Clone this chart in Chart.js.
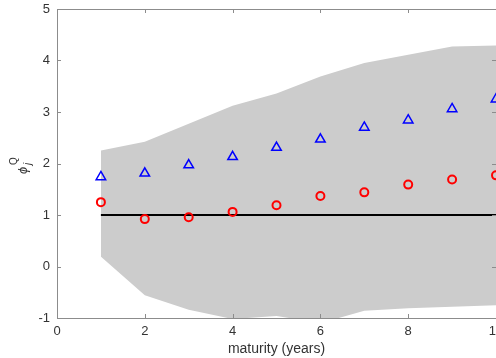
<!DOCTYPE html>
<html>
<head>
<meta charset="utf-8">
<script src="https://cdn.jsdelivr.net/npm/chart.js@4/dist/chart.umd.min.js"></script>
<style>
  html, body { margin: 0; padding: 0; background: #fff; overflow: hidden; }
  canvas { display: block; }
</style>
</head>
<body>
<canvas id="myChart" width="530" height="358"></canvas>
<script>
// maturities in years
const maturity = [1, 2, 3, 4, 5, 6, 7, 8, 9, 10];
// blue triangles and red circles
const triangleVals = [1.74, 1.81, 1.97, 2.13, 2.31, 2.47, 2.70, 2.84, 3.06, 3.25];
const circleVals = [1.25, 0.92, 0.955, 1.06, 1.19, 1.37, 1.44, 1.59, 1.69, 1.77];
// shaded band
const bandUpper = [2.25, 2.42, 2.77, 3.12, 3.36, 3.69, 3.95, 4.11, 4.27, 4.29];
const bandLower = [0.19, -0.56, -0.84, -1.02, -0.96, -1.1, -0.86, -0.81, -0.78, -0.75];
// reference line
const refLevel = 1;

const xTicks = [0, 2, 4, 6, 8, 10];
const yTicks = [-1, 0, 1, 2, 3, 4, 5];

function pts(vals) {
  return maturity.map((m, i) => ({ x: m, y: vals[i] }));
}

const axisColor = "#8c8c8c";
const textColor = "#333333";

// box round the plot with inward ticks, like matlab
const boxPlugin = {
  id: "box",
  afterDatasetsDraw(chart) {
    const ctx = chart.ctx;
    const a = chart.chartArea;
    const xs = chart.scales.x;
    const ys = chart.scales.y;
    ctx.save();
    ctx.strokeStyle = axisColor;
    ctx.lineWidth = 1;
    ctx.strokeRect(Math.round(a.left) + 0.5, Math.round(a.top) + 0.5,
      Math.round(a.right - a.left), Math.round(a.bottom - a.top));
    ctx.beginPath();
    xTicks.forEach(t => {
      const px = Math.round(xs.getPixelForValue(t)) + 0.5;
      ctx.moveTo(px, a.bottom); ctx.lineTo(px, a.bottom - 4);
      ctx.moveTo(px, a.top); ctx.lineTo(px, a.top + 4);
    });
    yTicks.forEach(t => {
      const py = Math.round(ys.getPixelForValue(t)) + 0.5;
      ctx.moveTo(a.left, py); ctx.lineTo(a.left + 4, py);
      ctx.moveTo(a.right, py); ctx.lineTo(a.right - 4, py);
    });
    ctx.stroke();

    // y label: phi with subscript j and superscript Q, rotated
    ctx.translate(23, 170);
    ctx.rotate(-Math.PI / 2);
    ctx.fillStyle = textColor;
    ctx.textBaseline = "alphabetic";
    ctx.font = "italic 13px 'Liberation Sans', Arial, sans-serif";
    ctx.fillText("\u03D5", -4, 4);
    ctx.font = "10px 'Liberation Sans', Arial, sans-serif";
    ctx.fillText("Q", 5, -6);
    ctx.font = "italic 10px 'Liberation Sans', Arial, sans-serif";
    ctx.fillText("j", 5, 8);
    ctx.restore();
  }
};

new Chart(document.getElementById("myChart"), {
  type: "scatter",
  data: {
    datasets: [
      {
        label: "triangles",
        data: pts(triangleVals),
        pointStyle: "triangle",
        pointRadius: 5.5,
        pointBorderColor: "#0000ff",
        pointBackgroundColor: "rgba(0,0,0,0)",
        pointBorderWidth: 1.5,
        showLine: false,
        order: 0
      },
      {
        label: "circles",
        data: pts(circleVals),
        pointStyle: "circle",
        pointRadius: 4,
        pointBorderColor: "#ff0000",
        pointBackgroundColor: "rgba(0,0,0,0)",
        pointBorderWidth: 2,
        showLine: false,
        order: 0
      },
      {
        label: "ref",
        type: "line",
        data: maturity.map(m => ({ x: m, y: refLevel })),
        borderColor: "#000000",
        borderWidth: 2,
        pointRadius: 0,
        fill: false,
        order: 1
      },
      {
        label: "upper",
        type: "line",
        data: pts(bandUpper),
        borderWidth: 0,
        borderColor: "#cccccc",
        backgroundColor: "#cccccc",
        pointRadius: 0,
        fill: "+1",
        order: 2
      },
      {
        label: "lower",
        type: "line",
        data: pts(bandLower),
        borderWidth: 0,
        borderColor: "#cccccc",
        backgroundColor: "#cccccc",
        pointRadius: 0,
        fill: false,
        order: 3
      }
    ]
  },
  options: {
    responsive: false,
    animation: false,
    layout: { padding: { top: 9, right: 34, left: 0, bottom: 0 } },
    plugins: {
      legend: { display: false },
      tooltip: { enabled: false }
    },
    scales: {
      x: {
        type: "linear",
        min: 0,
        max: 10,
        afterBuildTicks: s => { s.ticks = xTicks.map(v => ({ value: v })); },
        afterFit: s => { s.height = 40; s.paddingLeft = 0; s.paddingRight = 0; },
        grid: { display: false, drawTicks: false },
        border: { display: false },
        ticks: {
          padding: 6,
          color: textColor,
          font: { family: "'Liberation Sans', Arial, sans-serif", size: 13 }
        },
        title: {
          display: true,
          text: "maturity (years)",
          color: textColor,
          padding: { top: 0, bottom: 0 },
          font: { family: "'Liberation Sans', Arial, sans-serif", size: 14 }
        }
      },
      y: {
        min: -1,
        max: 5,
        afterBuildTicks: s => { s.ticks = yTicks.map(v => ({ value: v })); },
        afterFit: s => { s.width = 57; s.paddingTop = 0; s.paddingBottom = 0; },
        grid: { display: false, drawTicks: false },
        border: { display: false },
        ticks: {
          padding: 7,
          color: textColor,
          font: { family: "'Liberation Sans', Arial, sans-serif", size: 13 }
        }
      }
    }
  },
  plugins: [boxPlugin]
});
</script>
</body>
</html>
